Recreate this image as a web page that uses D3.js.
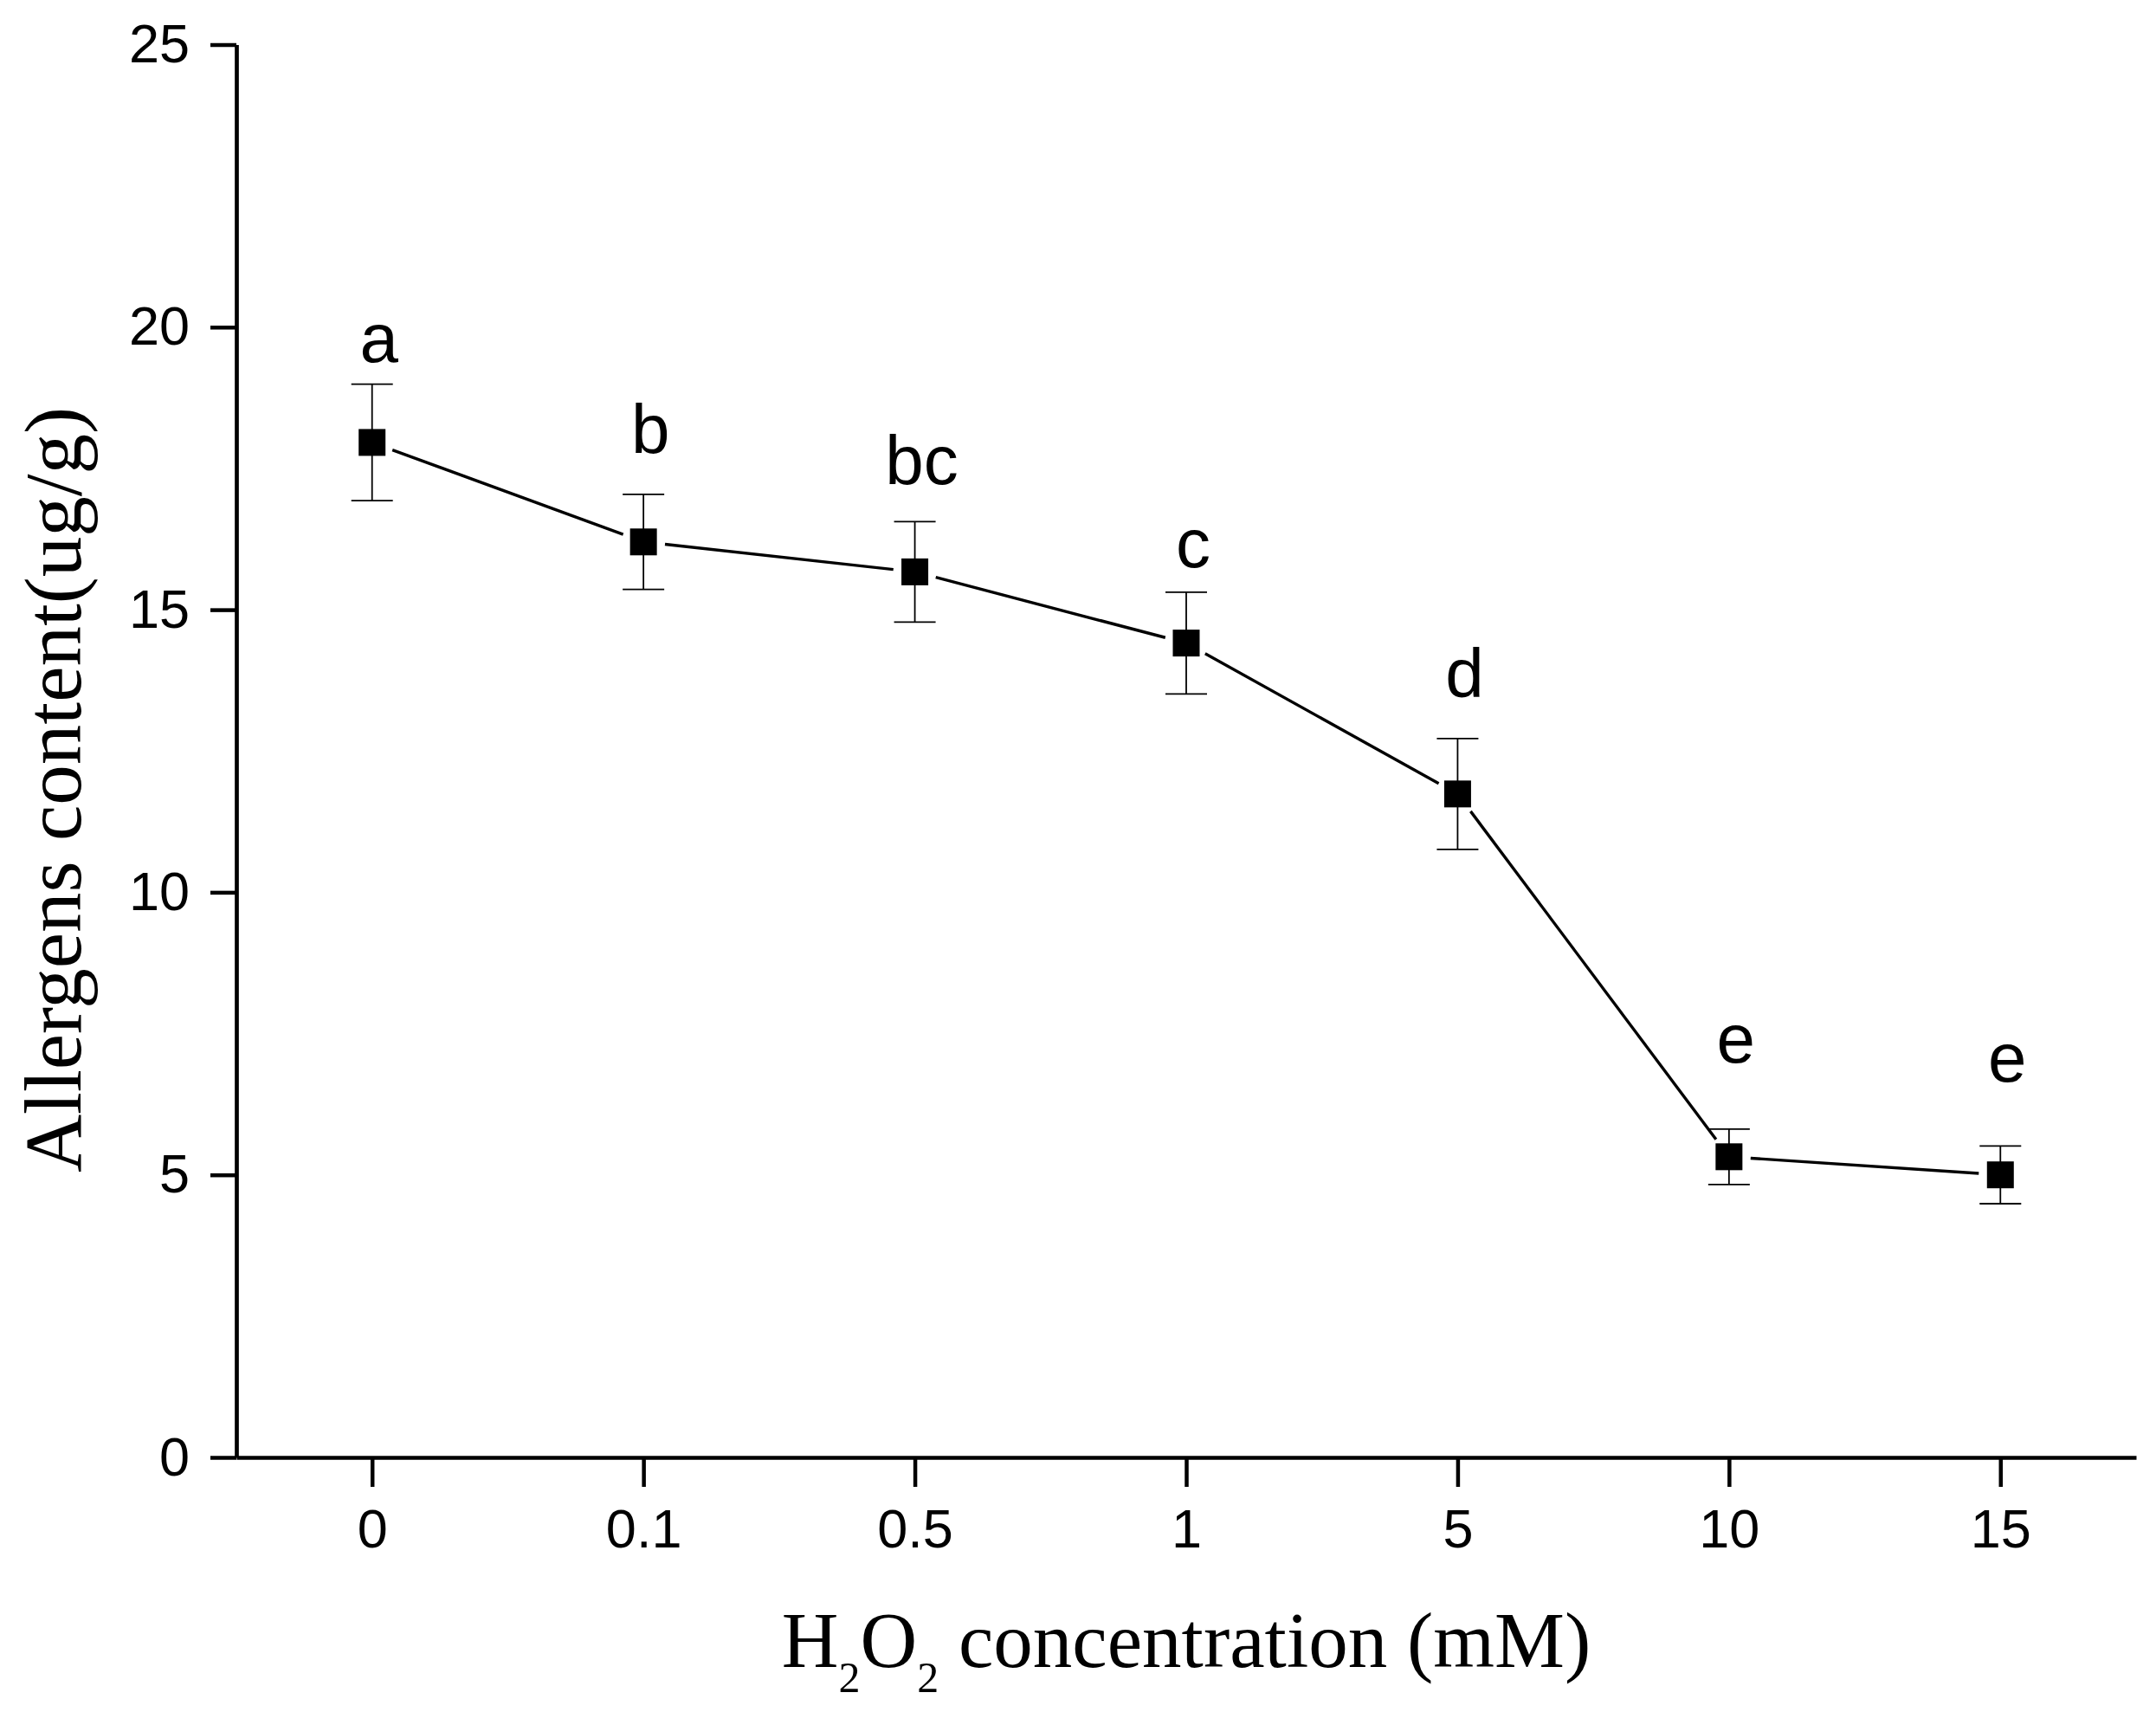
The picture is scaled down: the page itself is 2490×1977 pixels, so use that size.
<!DOCTYPE html>
<html>
<head>
<meta charset="utf-8">
<script src="https://cdn.jsdelivr.net/npm/d3@7"></script>
<style>
  body { margin: 0; background: #fff; }
</style>
</head>
<body>
<div id="canvas"></div>
<script>
// H2O2 concentration (mM) on the x axis
let categories = ["0", "0.1", "0.5", "1", "5", "10", "15"]
// allergen content means and their error bars
let means = [17.96, 16.20, 15.67, 14.41, 11.74, 5.32, 5.00]
let errors = [1.03, 0.84, 0.89, 0.90, 0.98, 0.49, 0.51]
// significance letters and the value where each one sits
let letters = ["a", "b", "bc", "c", "d", "e", "e"]
let letterValues = [19.38, 17.78, 17.22, 15.75, 13.45, 6.99, 6.65]
let yTicks = [0, 5, 10, 15, 20, 25]

let svg = {}
let x, y

window.onload = function () { setup() }

function setup() {
  setupSVGCanvas()
  setupScales()
  drawAxes()
  drawSeries()
  drawTitles()
}

function setupSVGCanvas() {
  svg = d3.select("#canvas")
    .append("svg")
    .attr("width", 2490)
    .attr("height", 1977)
}

function setupScales() {
  x = d3.scalePoint()
    .domain(categories)
    .range([273, 2467])
    .padding(0.5)

  y = d3.scaleLinear()
    .domain([0, 25])
    .range([1683, 51.5])
}

function drawAxes() {
  let xAxis = svg.append("g")
    .attr("transform", "translate(0," + y(0) + ")")
    .call(d3.axisBottom(x).tickSize(34).tickSizeOuter(0).tickPadding(25))

  let yAxis = svg.append("g")
    .attr("transform", "translate(" + x.range()[0] + ",0)")
    .call(d3.axisLeft(y).tickValues(yTicks).tickSize(30).tickSizeOuter(0).tickPadding(24))

  for (let axis of [xAxis, yAxis]) {
    axis.select(".domain").attr("stroke", "#000").attr("stroke-width", 4.7)
    axis.selectAll(".tick line").attr("stroke", "#000").attr("stroke-width", 4.5)
    axis.selectAll(".tick text")
      .attr("fill", "#000")
      .style("font-family", "'Liberation Sans', Arial, sans-serif")
      .style("font-size", "63px")
  }
}

function drawSeries() {
  let points = categories.map((c, i) => ({ cat: c, mean: means[i], err: errors[i], letter: letters[i], lv: letterValues[i] }))

  // connecting line, stopping short of each marker
  let gap = 25
  let segs = d3.pairs(points).map(([a, b]) => {
    let x1 = x(a.cat), y1 = y(a.mean), x2 = x(b.cat), y2 = y(b.mean)
    let len = Math.hypot(x2 - x1, y2 - y1)
    let ux = (x2 - x1) / len, uy = (y2 - y1) / len
    return [x1 + ux * gap, y1 + uy * gap, x2 - ux * gap, y2 - uy * gap]
  })

  svg.selectAll(".seg")
    .data(segs)
    .join("line")
    .attr("class", "seg")
    .attr("x1", d => d[0])
    .attr("y1", d => d[1])
    .attr("x2", d => d[2])
    .attr("y2", d => d[3])
    .attr("stroke", "#000")
    .attr("stroke-width", 3.4)

  let bars = svg.selectAll(".err")
    .data(points)
    .join("g")
    .attr("class", "err")
    .attr("stroke", "#000")
    .attr("stroke-width", 1.8)

  bars.append("line")
    .attr("x1", d => x(d.cat))
    .attr("x2", d => x(d.cat))
    .attr("y1", d => y(d.mean + d.err))
    .attr("y2", d => y(d.mean - d.err))

  bars.append("line")
    .attr("x1", d => x(d.cat) - 24)
    .attr("x2", d => x(d.cat) + 24)
    .attr("y1", d => y(d.mean + d.err))
    .attr("y2", d => y(d.mean + d.err))

  bars.append("line")
    .attr("x1", d => x(d.cat) - 24)
    .attr("x2", d => x(d.cat) + 24)
    .attr("y1", d => y(d.mean - d.err))
    .attr("y2", d => y(d.mean - d.err))

  svg.selectAll(".marker")
    .data(points)
    .join("rect")
    .attr("class", "marker")
    .attr("x", d => x(d.cat) - 15.5)
    .attr("y", d => y(d.mean) - 15.5)
    .attr("width", 31)
    .attr("height", 31)
    .attr("fill", "#000")

  svg.selectAll(".letter")
    .data(points)
    .join("text")
    .attr("class", "letter")
    .attr("x", d => x(d.cat) + 8)
    .attr("y", d => y(d.lv))
    .attr("text-anchor", "middle")
    .style("font-family", "'Liberation Sans', Arial, sans-serif")
    .style("font-size", "80px")
    .text(d => d.letter)
}

function drawTitles() {
  let serif = "'Liberation Serif', 'Times New Roman', serif"

  let xt = svg.append("text")
    .attr("x", (x.range()[0] + x.range()[1]) / 2)
    .attr("y", 1925)
    .attr("text-anchor", "middle")
    .style("font-family", serif)
    .style("font-size", "91px")

  xt.append("tspan").text("H")
  xt.append("tspan").attr("dy", 29).style("font-size", "50px").text("2")
  xt.append("tspan").attr("dy", -29).text("O")
  xt.append("tspan").attr("dy", 29).style("font-size", "50px").text("2")
  xt.append("tspan").attr("dy", -29).text(" concentration (mM)")

  svg.append("text")
    .attr("transform", "translate(93,912) rotate(-90)")
    .attr("text-anchor", "middle")
    .style("font-family", serif)
    .style("font-size", "93px")
    .text("Allergens content(ug/g)")
}
</script>
</body>
</html>
